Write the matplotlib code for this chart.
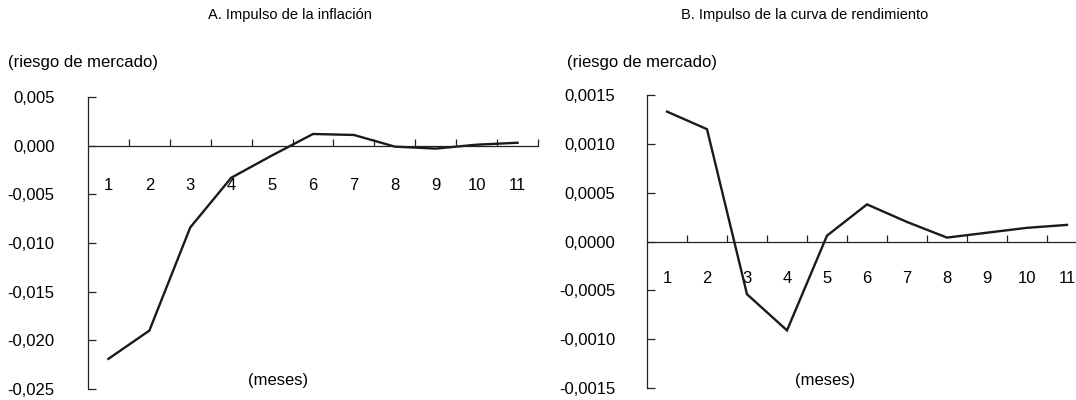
import matplotlib
matplotlib.use('Agg')
import matplotlib.pyplot as plt
from matplotlib.ticker import FixedLocator, FuncFormatter, NullFormatter

plt.rcParams['font.family'] = ['Liberation Sans', 'DejaVu Sans']

# meses del impulso
meses = list(range(1, 12))
mes_labels = [str(m) for m in meses]

# respuesta del riesgo de mercado
resp_inflacion = [-0.0219, -0.0190, -0.0084, -0.0033, -0.0010, 0.0012,
                  0.0011, -0.0001, -0.0003, 0.0001, 0.0003]
resp_curva = [0.00133, 0.00115, -0.00054, -0.00091, 0.00006, 0.00038,
              0.00020, 0.00004, 0.00009, 0.00014, 0.00017]

titulos = ['A. Impulso de la inflación', 'B. Impulso de la curva de rendimiento']
ylims = [(-0.025, 0.005), (-0.0015, 0.0015)]
ysteps = [0.005, 0.0005]
ydec = [3, 4]

W, H = 1076, 400
fig = plt.figure(figsize=(W / 100, H / 100), dpi=100)


def px_rect(x0, x1, ytop, ybot):
    return [x0 / W, 1 - ybot / H, (x1 - x0) / W, (ybot - ytop) / H]


axes = [fig.add_axes(px_rect(88, 538, 97, 389)),
        fig.add_axes(px_rect(647, 1087, 95, 388))]
label_pads = [23, 21]
ylab_pads = [24, 23]

line_color = '#1a1a1a'
for i, ax in enumerate(axes):
    datos = resp_inflacion if i == 0 else resp_curva
    ax.plot(meses, datos, color=line_color, lw=1.7, solid_joinstyle='miter')
    ax.set_xlim(0.5, 11.5)
    lo, hi = ylims[i]
    ax.set_ylim(lo, hi)

    for s in ['top', 'right']:
        ax.spines[s].set_visible(False)
    ax.spines['bottom'].set_position(('data', 0))
    for s in ['left', 'bottom']:
        ax.spines[s].set_linewidth(0.9)
        ax.spines[s].set_color('#222222')

    # ticks at category boundaries, labels at centers
    bounds = [m + 0.5 for m in meses]
    ax.xaxis.set_major_locator(FixedLocator(bounds))
    ax.xaxis.set_major_formatter(NullFormatter())
    ax.xaxis.set_minor_locator(FixedLocator(meses))
    ax.xaxis.set_minor_formatter(FuncFormatter(lambda v, p: mes_labels[int(round(v)) - 1]))
    ax.tick_params(axis='x', which='major', direction='in', length=5, width=0.9, color='#222222')
    ax.tick_params(axis='x', which='minor', length=0, pad=label_pads[i], labelsize=12)

    n = int(round((hi - lo) / ysteps[i]))
    yt = [lo + k * ysteps[i] for k in range(n + 1)]
    ax.yaxis.set_major_locator(FixedLocator(yt))
    d = ydec[i]
    ax.yaxis.set_major_formatter(FuncFormatter(
        lambda v, p, d=d: f'{0.0 if abs(v) < 1e-12 else v:.{d}f}'.replace('.', ',')))
    ax.tick_params(axis='y', direction='in', length=6, width=0.9, color='#222222',
                   pad=ylab_pads[i], labelsize=12)
    ax.patch.set_visible(False)

fig.text(290 / W, 1 - 15 / H, titulos[0], ha='center', va='center', fontsize=10.5)
fig.text(805 / W, 1 - 15 / H, titulos[1], ha='center', va='center', fontsize=10.5)
fig.text(8 / W, 1 - 62 / H, '(riesgo de mercado)', ha='left', va='center', fontsize=12)
fig.text(567 / W, 1 - 62 / H, '(riesgo de mercado)', ha='left', va='center', fontsize=12)
fig.text(278 / W, 1 - 380 / H, '(meses)', ha='center', va='center', fontsize=12)
fig.text(825 / W, 1 - 380 / H, '(meses)', ha='center', va='center', fontsize=12)

fig.savefig('out.png', dpi=100)
